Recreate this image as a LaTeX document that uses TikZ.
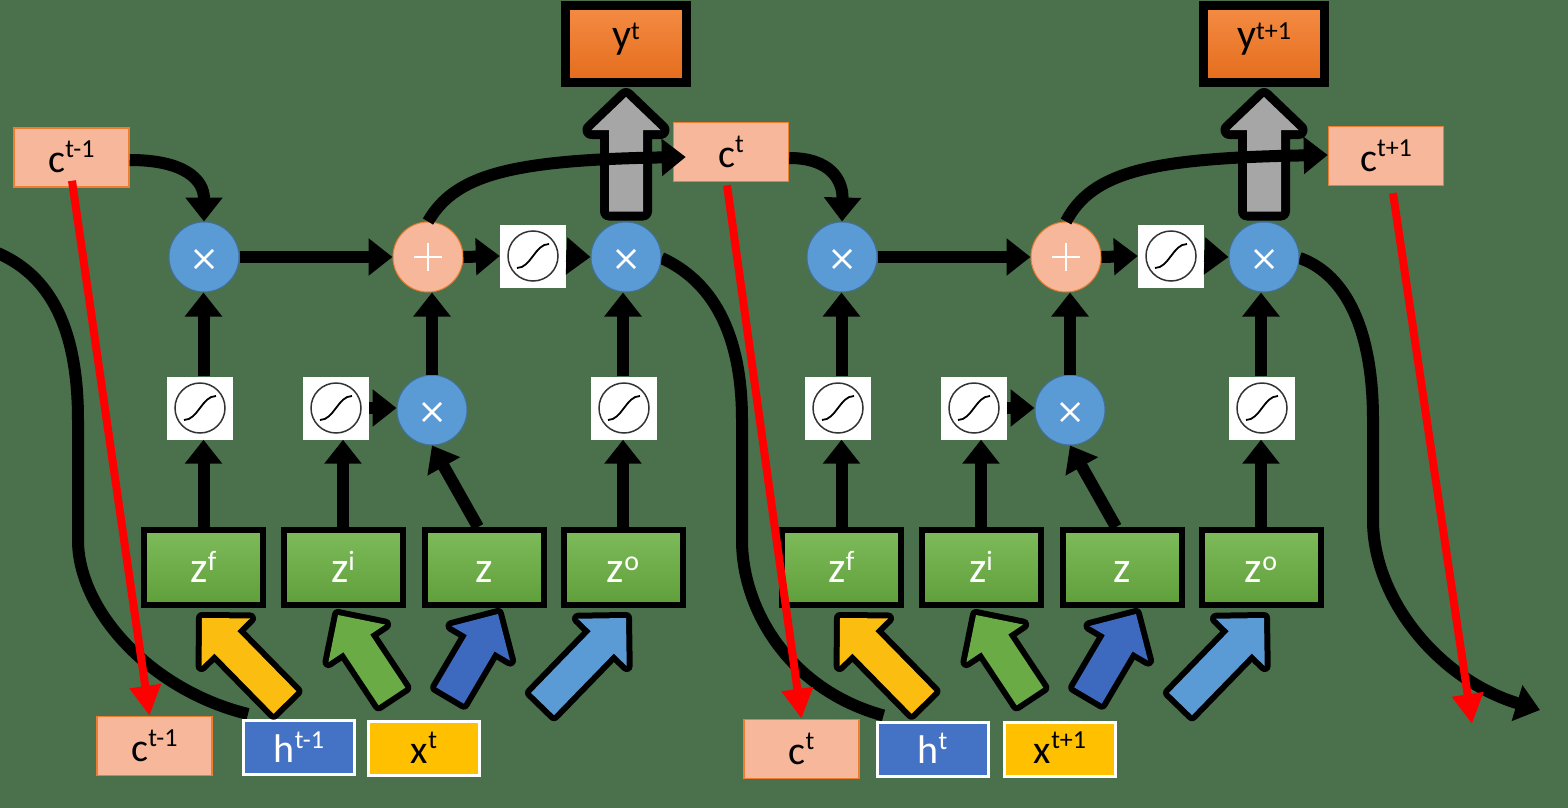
\documentclass[tikz,border=0pt]{standalone}
\usepackage{fontspec}
\setmainfont{Carlito}
\usetikzlibrary{arrows.meta,calc}
\pgfdeclarelayer{bgl}
\pgfdeclarelayer{back}
\pgfsetlayers{bgl,back,main}
\definecolor{bg}{HTML}{4B714C}
\definecolor{csal}{HTML}{F6B79B}
\definecolor{corg}{HTML}{ED7D31}
\definecolor{cblue}{HTML}{5B9BD5}
\definecolor{cbluedk}{HTML}{41719C}
\definecolor{zgt}{HTML}{7EBB5B}
\definecolor{zgb}{HTML}{5F9F3A}
\definecolor{yot}{HTML}{F48C44}
\definecolor{yob}{HTML}{E46C1C}
\definecolor{hblue}{HTML}{4472C4}
\definecolor{xyel}{HTML}{FFC000}
\definecolor{agray}{HTML}{A6A6A6}
\definecolor{ayel}{HTML}{FBBE10}
\definecolor{agrn}{HTML}{6AAB45}
\definecolor{adblue}{HTML}{3D69BE}
\definecolor{albl}{HTML}{5B9BD5}
\newcommand\spx[3]{\raisebox{#1pt}{\fontsize{#2}{#2}\selectfont #3}}
\newcommand\barrow[7]{%
 \coordinate (baB) at ($(#2)!#5!(#1)$);
 \coordinate (baA1) at ($(#1)!#3!90:(#2)$);
 \coordinate (baA2) at ($(#1)!#3!-90:(#2)$);
 \coordinate (baS1) at ($(baB)!#3!-90:(#1)$);
 \coordinate (baS2) at ($(baB)!#3!90:(#1)$);
 \coordinate (baH1) at ($(baB)!#4!-90:(#1)$);
 \coordinate (baH2) at ($(baB)!#4!90:(#1)$);
 \draw[black,line width=#7,line join=round] (baA1) -- (baS1) -- (baH1) -- (#2) -- (baH2) -- (baS2) -- (baA2) -- cycle;
 \fill[#6] (baA1) -- (baS1) -- (baH1) -- (#2) -- (baH2) -- (baS2) -- (baA2) -- cycle;
}
\begin{document}
\begin{tikzpicture}[x=1pt,y=-1pt,
 blkline/.style={black,line width=12pt},
 blk/.style={blkline,-{Triangle[width=36pt,length=24pt]}},
 redarr/.style={red,line width=8pt,-{Triangle[width=30pt,length=30pt]}},
 cbox/.style={draw=corg,line width=1.5pt,fill=csal,minimum width=115pt,minimum height=59pt,inner sep=0pt,text height=30pt,text depth=0pt,font=\fontsize{40}{40}\selectfont},
 zbox/.style={draw=black,line width=6pt,top color=zgt,bottom color=zgb,minimum width=119pt,minimum height=75pt,inner sep=0pt,text=white,text height=30pt,text depth=0pt,font=\fontsize{44}{44}\selectfont},
 ybox/.style={draw=black,line width=9pt,top color=yot,bottom color=yob,minimum width=121pt,minimum height=77pt,inner sep=0pt,text height=20pt,text depth=11pt,font=\fontsize{42}{42}\selectfont},
 hbox/.style={draw=white,line width=3pt,fill=hblue,minimum width=111pt,minimum height=54pt,inner sep=0pt,text=white,text height=29pt,text depth=0pt,font=\fontsize{40}{40}\selectfont},
 xbox/.style={hbox,fill=xyel,text=black},
 mulc/.style={circle,fill=cblue,draw=cbluedk,line width=1pt,minimum size=70pt,inner sep=0pt},
 addc/.style={circle,fill=csal,draw=corg,line width=1pt,minimum size=70pt,inner sep=0pt},
 sbox/.style={fill=white,minimum width=66pt,minimum height=63pt,inner sep=0pt},
 sgc/.style={draw=black!80,line width=1.5pt},
 sgs/.style={draw=black,line width=1.8pt},
 glyph/.style={white,line width=2.5pt}
]
\useasboundingbox (0,0) rectangle (1568,808);
\begin{pgfonlayer}{bgl}
\fill[bg] (0,0) rectangle (1568,808);
\end{pgfonlayer}

% cell-state and input boxes
\node[cbox] (ct0) at (71.5,157.5) {c\spx{15}{26}{t-1}};
\node[cbox] (ct1) at (731,152) {c\spx{15}{26}{t}};
\node[cbox] (ct2) at (1386,156) {c\spx{15}{26}{t+1}};
\node[cbox] (cb0) at (154.5,746) {c\spx{15}{26}{t-1}};
\node[hbox] (hb0) at (299,747.5) {h\spx{14}{26}{t-1}};
\node[xbox] (xb0) at (424,748.5) {x\spx{15}{26}{t}};
\node[cbox] (cb1) at (801.5,749) {c\spx{15}{26}{t}};
\node[hbox] (hb1) at (932.5,749) {h\spx{14}{26}{t}};
\node[xbox] (xb1) at (1060,749) {x\spx{15}{26}{t+1}};
\coordinate (hin) at (-10,250);
\coordinate (hout) at (1540,710);
\coordinate (rend) at (1472,724);

\foreach \i/\dx/\yl in {1/0/t,2/638/t+1}{
 \node[mulc] (mf\i) at (204+\dx,257) {};
 \node[addc] (ad\i) at (428+\dx,257) {};
 \node[sbox] (sc\i) at (533+\dx,256) {};
 \node[mulc] (mo\i) at (626+\dx,257) {};
 \node[sbox] (sf\i) at (200+\dx,408) {};
 \node[sbox] (si\i) at (336+\dx,408) {};
 \node[mulc] (mi\i) at (432+\dx,410) {};
 \node[sbox] (so\i) at (624+\dx,408) {};
 \node[zbox] (zf\i) at (203.5+\dx,567.5) {z\spx{12}{28}{f}};
 \node[zbox] (zi\i) at (343+\dx,567.5) {z\spx{12}{28}{i}};
 \node[zbox] (zz\i) at (484+\dx,567.5) {z};
 \node[zbox] (zo\i) at (623+\dx,567.5) {z\spx{12}{28}{o}};
 \node[ybox] (y\i) at (626+\dx,44) {y\spx{9}{26}{\yl}};
 % glyphs
 \foreach \s in {sc\i,sf\i,si\i,so\i}{
  \begin{scope}[shift={(\s.center)}]
   \draw[sgc] (0,0) circle (25);
   \draw[sgs] (-16,12) .. controls (-2,12) and (2,-12) .. (16,-12);
  \end{scope}
 }
 \foreach \m in {mf\i,mi\i,mo\i}{
  \draw[glyph] ([shift={(-9,-7)}]\m.center) -- ([shift={(9,11)}]\m.center);
  \draw[glyph] ([shift={(-9,11)}]\m.center) -- ([shift={(9,-7)}]\m.center);
 }
 \draw[glyph,line width=2pt] ([shift={(-14,0)}]ad\i.center) -- ([shift={(14,0)}]ad\i.center);
 \draw[glyph,line width=2pt] ([shift={(0,-14)}]ad\i.center) -- ([shift={(0,14)}]ad\i.center);
 % connectors
 \draw[blk] (zf\i.north) -- (zf\i.north |- sf\i.south);
 \draw[blk] (zf\i.north |- sf\i.north) -- (zf\i.north |- mf\i.south);
 \draw[blk] (zi\i.north) -- (zi\i.north |- si\i.south);
 \draw[blk] (si\i.east) -- (si\i.east -| mi\i.west);
 \draw[blk] ($(zz\i.north)+(-6,0)$) -- (mi\i.south);
 \draw[blk] (mi\i.north) -- (mi\i.north |- ad\i.south);
 \draw[blk] (mf\i.east) -- (ad\i.west);
 \draw[blk] (ad\i.east) -- (sc\i.west);
 \draw[blk] (sc\i.east) -- (mo\i.west);
 \draw[blk] (zo\i.north) -- (zo\i.north |- so\i.south);
 \draw[blk] (zo\i.north |- so\i.north) -- (zo\i.north |- mo\i.south);
 % output arrow
 \coordinate (gT\i) at ($(mo\i.north)+(0,-10)$);
 \coordinate (gP\i) at ($(y\i.south)+(0,10)$);
 \barrow{gT\i}{gP\i}{17pt}{34.5pt}{33pt}{agray}{18pt}
 % input block arrows
 \coordinate (yT\i) at (285+\dx,702.5);
 \coordinate (yP\i) at (202+\dx,618);
 \coordinate (gnT\i) at (392+\dx,696.5);
 \coordinate (gnP\i) at (338+\dx,615);
 \coordinate (dbT\i) at (450+\dx,695.5);
 \coordinate (dbP\i) at (498+\dx,614);
 \coordinate (lbT\i) at (542.5+\dx,704);
 \coordinate (lbP\i) at (626+\dx,618);
 \barrow{yT\i}{yP\i}{16pt}{34pt}{34pt}{ayel}{12pt}
 \barrow{gnT\i}{gnP\i}{16pt}{34pt}{34pt}{agrn}{12pt}
 \barrow{dbT\i}{dbP\i}{16pt}{34pt}{34pt}{adblue}{12pt}
 \barrow{lbT\i}{lbP\i}{16pt}{34pt}{34pt}{albl}{12pt}
}

% recurrent h curves (under the boxes)
\begin{pgfonlayer}{back}
\draw[blkline] (hin) .. controls (45,270) and (78,320) .. (78,420) -- (78,540) .. controls (78,610) and (150,690) .. ($(hb0.north west)+(6,-5)$);
\draw[blkline] ($(mo1.east)+(0,1)$) .. controls (710,280) and (742,330) .. (742,420) -- (742,540) .. controls (742,610) and (790,690) .. ($(hb1.north west)+(8,-5)$);
\draw[blk] ($(mo2.east)+(0,1)$) .. controls (1340,272) and (1373,320) .. (1373,420) -- (1373,520) .. controls (1373,600) and (1440,680) .. (hout);
\end{pgfonlayer}

% cell state paths
\draw[blk] ($(ct0.east)+(0,2.5)$) .. controls (185,160) and (204,180) .. (mf1.north);
\draw[blk] ($(ct1.east)+(0,6)$) .. controls (830,158) and (843,180) .. (mf2.north);
\draw[blk] (ad1.north) .. controls (455,175) and (510,160) .. ($(ct1.west)+(13,5)$);
\draw[blk] (ad2.north) .. controls (1092,172) and (1150,158) .. ($(ct2.west)+(0,-1)$);

% red copies
\draw[redarr] ($(ct0.south)+(0.5,-7)$) -- ($(cb0.north)+(-5,0)$);
\draw[redarr] ($(ct1.south)+(-4,3)$) -- (cb1.north);
\draw[redarr] ($(ct2.south)+(7,7)$) -- (rend);
\end{tikzpicture}
\end{document}
